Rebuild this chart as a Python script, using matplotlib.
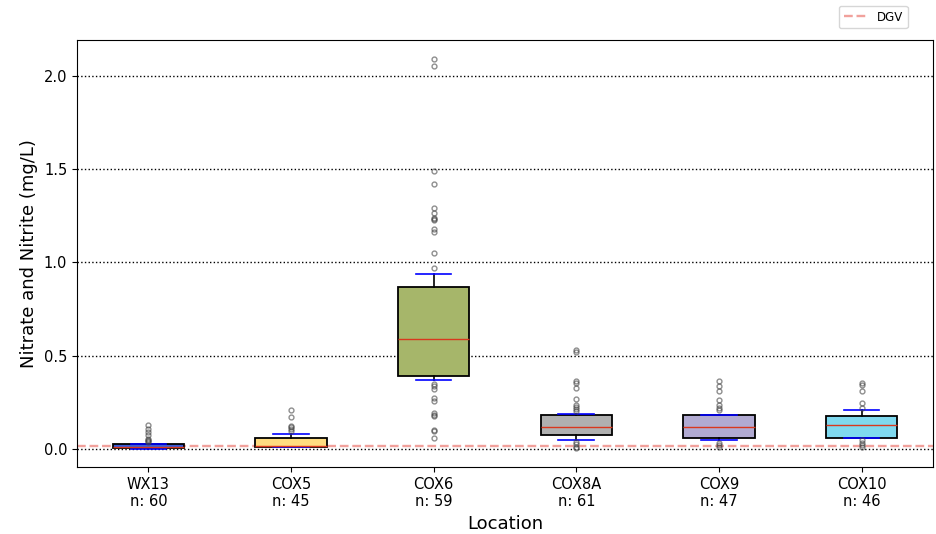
import matplotlib.pyplot as plt
import numpy as np

locations = ['WX13', 'COX5', 'COX6', 'COX8A', 'COX9', 'COX10']
counts = [60, 45, 59, 61, 47, 46]

# box statistics (mg/L)
q1 = [0.005, 0.012, 0.39, 0.078, 0.059, 0.062]
medians = [0.01, 0.018, 0.59, 0.12, 0.12, 0.13]
q3 = [0.03, 0.059, 0.87, 0.182, 0.182, 0.18]
whislo = [0.0, 0.01, 0.37, 0.052, 0.052, 0.062]
whishi = [0.03, 0.082, 0.94, 0.19, 0.182, 0.21]
fliers = [
    [0.128, 0.11, 0.093, 0.075, 0.057, 0.05, 0.045, 0.039],
    [0.21, 0.17, 0.125, 0.118, 0.107, 0.096],
    [2.09, 2.05, 1.49, 1.42, 1.29, 1.265, 1.235, 1.23, 1.225, 1.18, 1.16, 1.05, 0.97,
     0.35, 0.34, 0.325, 0.276, 0.258, 0.196, 0.185, 0.178, 0.102, 0.1, 0.06],
    [0.53, 0.52, 0.365, 0.353, 0.33, 0.27, 0.239, 0.228, 0.218, 0.205,
     0.039, 0.027, 0.014, 0.005],
    [0.365, 0.339, 0.31, 0.262, 0.235, 0.222, 0.21, 0.035, 0.02, 0.01],
    [0.357, 0.342, 0.31, 0.25, 0.223, 0.048, 0.035, 0.02, 0.01],
]
box_colors = ['#3b5bd6', '#ffdc80', '#a6b66a', '#b0b0b0', '#b1aad2', '#7fd9ef']
dgv = 0.016

stats = []
for i, loc in enumerate(locations):
    stats.append({'label': f'{loc}\nn: {counts[i]}', 'q1': q1[i], 'med': medians[i],
                  'q3': q3[i], 'whislo': whislo[i], 'whishi': whishi[i],
                  'fliers': np.array(fliers[i])})

fig = plt.figure(figsize=(9.37, 5.34), dpi=100)
ax = fig.add_axes([0.0822, 0.1255, 0.9135, 0.7995])

bp = ax.bxp(stats, widths=0.5, patch_artist=True,
            boxprops=dict(edgecolor='black', linewidth=1.3),
            medianprops=dict(color='#d9381e', linewidth=1),
            whiskerprops=dict(color='black', linewidth=1.2),
            capprops=dict(color='blue', linewidth=1.2),
            flierprops=dict(marker='o', markersize=3.5, markerfacecolor='none',
                            markeredgecolor='#444444', alpha=0.6, markeredgewidth=1))
for patch, c in zip(bp['boxes'], box_colors):
    patch.set_facecolor(c)

ax.axhline(dgv, color='#e8635b', linestyle='--', linewidth=1.7, alpha=0.6, label='DGV', zorder=1)
ax.yaxis.grid(True, linestyle=':', color='black', linewidth=1)
ax.set_axisbelow(True)
ax.set_yticks([0.0, 0.5, 1.0, 1.5, 2.0])
ax.set_ylim(-0.095, 2.19)
ax.set_xlim(0.5, 6.5)
ax.tick_params(labelsize=10.5)
ax.set_ylabel('Nitrate and Nitrite (mg/L)', fontsize=13)
ax.set_xlabel('Location', fontsize=13)

fig.legend(loc='upper right', bbox_to_anchor=(0.975, 1.0), fontsize=8.5)

fig.savefig('out.png', dpi=100)
